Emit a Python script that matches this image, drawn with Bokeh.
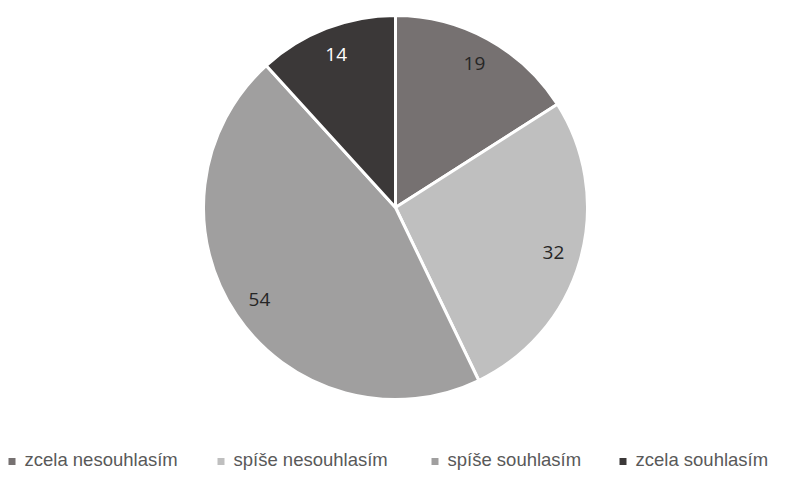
import math
from bokeh.plotting import figure
from bokeh.models import Range1d, ColumnDataSource
from bokeh.core.properties import value
from bokeh.embed import file_html
from bokeh.resources import INLINE

categories = ["zcela nesouhlasím", "spíše nesouhlasím", "spíše souhlasím", "zcela souhlasím"]
values = [19, 32, 54, 14]
colors = ["#767171", "#bfbfbf", "#a09f9f", "#3b3838"]
label_colors = ["#262626", "#262626", "#262626", "#ffffff"]

W, H = 771, 476
p = figure(width=W, height=H, output_backend="svg", toolbar_location=None,
           x_range=Range1d(0, W), y_range=Range1d(0, H), min_border=0)
p.axis.visible = False
p.grid.visible = False
p.outline_line_color = None

cx, cy, r = 395, H - 207, 192
total = sum(values)
starts, ends, lx, ly = [], [], [], []
acc = 0.0
for v in values:
    a0 = math.pi / 2 - acc / total * 2 * math.pi
    a1 = math.pi / 2 - (acc + v) / total * 2 * math.pi
    starts.append(a0)
    ends.append(a1)
    mid = (a0 + a1) / 2
    lx.append(cx + 0.855 * r * math.cos(mid))
    ly.append(cy + 0.855 * r * math.sin(mid))
    acc += v

src = ColumnDataSource(dict(start=starts, end=ends, color=colors, lx=lx, ly=ly,
                            lab=[str(v) for v in values], lc=label_colors))
p.wedge(x=cx, y=cy, radius=r, start_angle="start", end_angle="end", direction="clock",
        fill_color="color", line_color="white", line_width=3, source=src)
p.text(x="lx", y="ly", text="lab", text_color="lc", text_font=value("Open Sans"),
       text_font_size="19px", text_align="center", text_baseline="middle", source=src)

# legend
leg_x = [8, 217, 431, 619]
p.scatter(x=[x + 3.5 for x in leg_x], y=[H - 461] * 4, marker="square", size=7,
          fill_color=colors, line_color=None)
p.text(x=[x + 16 for x in leg_x], y=[H - 459] * 4, text=categories,
       text_font=value("Liberation Sans"),
       text_font_size="18.5px", text_color="#595959", text_baseline="middle", text_align="left")

open("out.html", "w").write(file_html(p, INLINE))
